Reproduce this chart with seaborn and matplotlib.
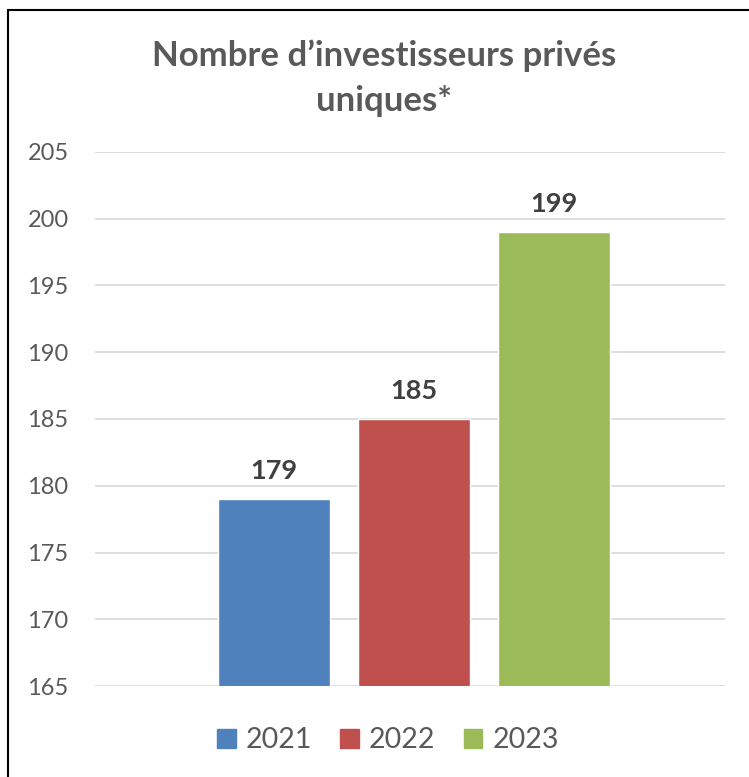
import pandas as pd
import seaborn as sns
import matplotlib.pyplot as plt
from matplotlib.patches import Rectangle

# data
years = ['2021', '2022', '2023']
investors = [179, 185, 199]
colors = ['#4F81BD', '#C0504D', '#9BBB59']
yticks = [165, 170, 175, 180, 185, 190, 195, 200, 205]

df = pd.DataFrame({'year': years, 'n': investors})

sns.set_style('white')
plt.rcParams['font.family'] = ['Lato', 'DejaVu Sans']

fig = plt.figure(figsize=(7.49, 7.77), dpi=100)
ax = fig.add_axes([0.1268, 0.1171, 0.8412, 0.6873])

sns.barplot(ax=ax, data=df, x='year', y='n', hue='year', palette=colors,
            width=0.8, saturation=1, legend=False, zorder=3)

ax.set_ylim(165, 205)
ax.set_xlim(-1.28, 3.22)
ax.set_yticks(yticks)
ax.set_yticklabels([str(t) for t in yticks], fontsize=17, color='#595959')
ax.tick_params(axis='y', length=0, pad=19)
ax.set_xticks([])
ax.set_xlabel('')
ax.set_ylabel('')
ax.grid(axis='y', color='#D9D9D9', linewidth=1.2, zorder=0)
for s in ax.spines.values():
    s.set_visible(False)

# data labels
for i, v in enumerate(investors):
    ax.text(i, v + 1.2, str(v), ha='center', va='bottom', fontsize=19.5,
            fontweight='bold', color='#404040')

# title
fig.text(0.513, 0.900, "Nombre d\u2019investisseurs privés\nuniques*", ha='center',
         va='center', fontsize=25, fontweight='bold', color='#595959', linespacing=1.5)

# legend
handles = [Rectangle((0, 0), 1, 1, color=c) for c in colors]
fig.legend(handles, years, loc='center', bbox_to_anchor=(0.518, 0.047), ncol=3,
           frameon=False, fontsize=20.5, handlelength=0.65, handleheight=0.65,
           handletextpad=0.35, columnspacing=1.0, labelcolor='#595959')

# outer border
fig.patches.append(Rectangle((8 / 749, -0.05), 1.2, 1 - 10 / 777 + 0.05, fill=False,
                             edgecolor='black', linewidth=1.5,
                             transform=fig.transFigure, figure=fig))

plt.savefig('out.png', dpi=100)
